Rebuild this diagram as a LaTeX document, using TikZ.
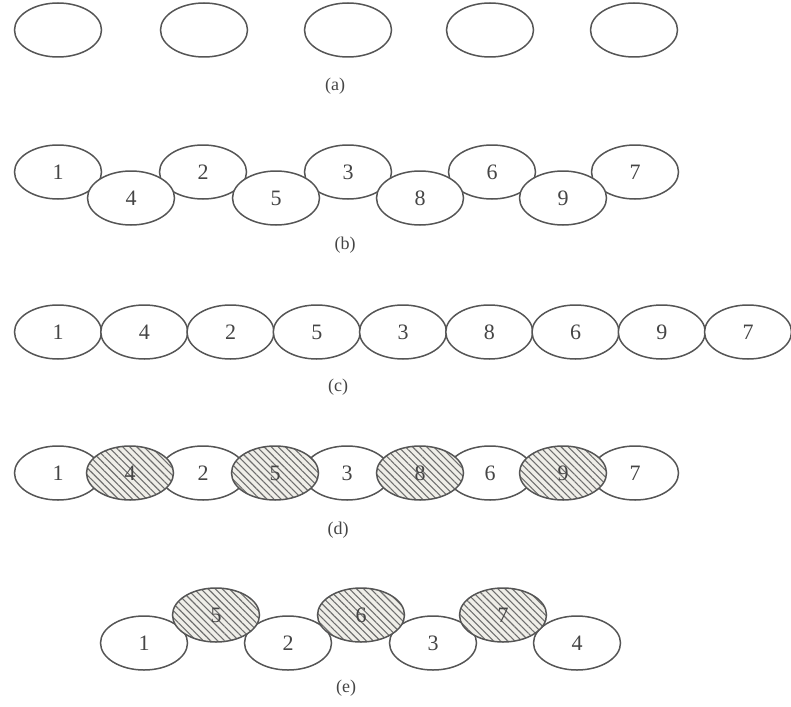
\documentclass[tikz,border=0pt]{standalone}
\usepackage{fontspec}
\setmainfont{Liberation Serif}
\usetikzlibrary{shapes.geometric,patterns.meta}
\definecolor{ink}{HTML}{555555}
\definecolor{txt}{HTML}{454545}
\definecolor{hatchbg}{HTML}{EFEEE8}
\tikzset{
  ball/.style={ellipse, draw=ink, line width=1.5pt, fill=white, minimum width=87pt, minimum height=54pt, inner sep=0pt, text=txt, font=\fontsize{22}{26}\selectfont},
  hatched/.style={ball, preaction={fill=hatchbg}, fill=none, pattern={Lines[angle=-45,distance=5pt,line width=1.1pt]}, pattern color=ink!85},
  caption/.style={text=txt, font=\fontsize{18}{21}\selectfont, inner sep=0pt}
}
\begin{document}
\begin{tikzpicture}[x=1pt,y=-1pt]
\useasboundingbox (0,0) rectangle (791,706);
% (a)
\foreach \x [count=\i] in {58,204,348,490,634}
  \node[ball] (a\i) at (\x,30) {};
\node[caption] (la) at (335,86) {(a)};
% (b)
\node[ball] (b1) at (58,172) {1};
\node[ball] (b2) at (203,172) {2};
\node[ball] (b3) at (348,172) {3};
\node[ball] (b6) at (492,172) {6};
\node[ball] (b7) at (635,172) {7};
\node[ball] (b4) at (131,198) {4};
\node[ball] (b5) at (276,198) {5};
\node[ball] (b8) at (420,198) {8};
\node[ball] (b9) at (563,198) {9};
\node[caption] (lb) at (345,245) {(b)};
% (c)
\foreach \t [count=\i] in {1,4,2,5,3,8,6,9,7}
  \node[ball] (c\i) at ({58+86.25*(\i-1)},332) {\t};
\node[caption] (lc) at (338,387) {(c)};
% (d)
\node[ball] (d1) at (58,473) {1};
\node[ball] (d2) at (203,473) {2};
\node[ball] (d3) at (347,473) {3};
\node[ball] (d6) at (490,473) {6};
\node[ball] (d7) at (635,473) {7};
\node[hatched] (d4) at (130,473) {4};
\node[hatched] (d5) at (275,473) {5};
\node[hatched] (d8) at (420,473) {8};
\node[hatched] (d9) at (563,473) {9};
\node[caption] (ld) at (338,530) {(d)};
% (e)
\node[ball] (e1) at (144,643) {1};
\node[ball] (e2) at (288,643) {2};
\node[ball] (e3) at (433,643) {3};
\node[ball] (e4) at (577,643) {4};
\node[hatched] (e5) at (216,615) {5};
\node[hatched] (e6) at (361,615) {6};
\node[hatched] (e7) at (503,615) {7};
\node[caption] (le) at (346,688) {(e)};
\end{tikzpicture}
\end{document}
